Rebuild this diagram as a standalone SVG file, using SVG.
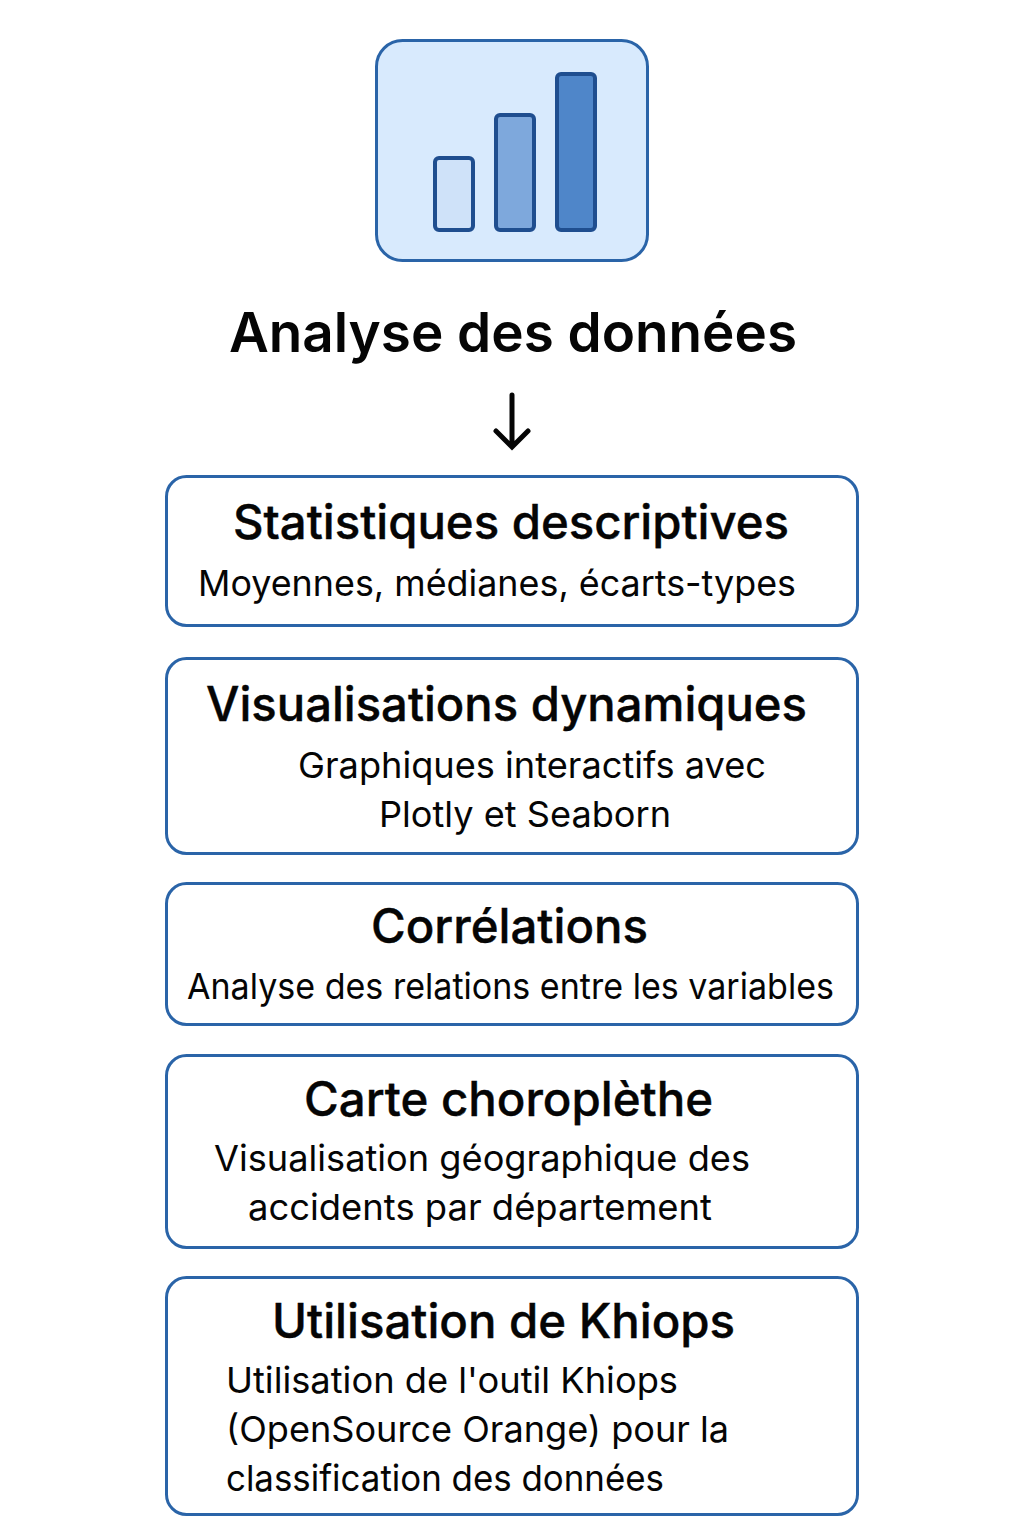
<svg xmlns="http://www.w3.org/2000/svg" width="1024" height="1536" viewBox="0 0 1024 1536">
<style>
text{font-family:"Inter","Liberation Sans",sans-serif;fill:#050505}
.t{font-size:47.400px;font-weight:500;stroke:#050505;stroke-width:.4}
.h{font-size:55px;font-weight:600}
.s{font-size:36px;font-weight:400}
.box{fill:#fff;stroke:#2a64a8;stroke-width:3}
.bar{stroke:#1f4e8f;stroke-width:4}
</style>
<rect width="1024" height="1536" fill="#fff"/>
<g id="icon">
<rect x="376.500" y="40.500" width="271" height="220" rx="26" fill="#d8eafd" stroke="#2a64a8" stroke-width="3"/>
<rect class="bar" x="435" y="158" width="38" height="72" rx="4" fill="#cfe2f9"/>
<rect class="bar" x="496" y="115" width="38" height="115" rx="4" fill="#7ea8dc"/>
<rect class="bar" x="557" y="74" width="38" height="156" rx="4" fill="#4f86c9"/>
</g>
<g id="title"><text class="h" x="229" y="352" textLength="568" lengthAdjust="spacingAndGlyphs">Analyse des données</text></g>
<g id="connectors"><path d="M512 395V446M496 431L512 447L528 431" fill="none" stroke="#050505" stroke-width="5" stroke-linecap="round" stroke-linejoin="miter"/></g>
<g id="n1"><rect class="box" x="166.500" y="476.500" width="691" height="149" rx="20"/>
<text class="t" x="233" y="539" textLength="556" lengthAdjust="spacingAndGlyphs">Statistiques descriptives</text>
<text class="s" x="198" y="596" textLength="598" lengthAdjust="spacingAndGlyphs">Moyennes, médianes, écarts-types</text></g>
<g id="n2"><rect class="box" x="166.500" y="658.500" width="691" height="195" rx="20"/>
<text class="t" x="206" y="721" textLength="601" lengthAdjust="spacingAndGlyphs">Visualisations dynamiques</text>
<text class="s" x="298" y="778" textLength="468" lengthAdjust="spacingAndGlyphs">Graphiques interactifs avec</text>
<text class="s" x="379" y="827" textLength="292" lengthAdjust="spacingAndGlyphs">Plotly et Seaborn</text></g>
<g id="n3"><rect class="box" x="166.500" y="883.500" width="691" height="141" rx="20"/>
<text class="t" x="371" y="943" textLength="277" lengthAdjust="spacingAndGlyphs">Corrélations</text>
<text class="s" x="187" y="999" textLength="647" lengthAdjust="spacingAndGlyphs">Analyse des relations entre les variables</text></g>
<g id="n4"><rect class="box" x="166.500" y="1055.500" width="691" height="192" rx="20"/>
<text class="t" x="304" y="1116" textLength="409" lengthAdjust="spacingAndGlyphs">Carte choroplèthe</text>
<text class="s" x="214" y="1171" textLength="536" lengthAdjust="spacingAndGlyphs">Visualisation géographique des</text>
<text class="s" x="248" y="1220" textLength="464" lengthAdjust="spacingAndGlyphs">accidents par département</text></g>
<g id="n5"><rect class="box" x="166.500" y="1277.500" width="691" height="237" rx="20"/>
<text class="t" x="272" y="1338" textLength="463" lengthAdjust="spacingAndGlyphs">Utilisation de Khiops</text>
<text class="s" x="226" y="1393" textLength="452" lengthAdjust="spacingAndGlyphs">Utilisation de l'outil Khiops</text>
<text class="s" x="226" y="1442" textLength="503" lengthAdjust="spacingAndGlyphs">(OpenSource Orange) pour la</text>
<text class="s" x="226" y="1491" textLength="438" lengthAdjust="spacingAndGlyphs">classification des données</text></g>
</svg>
